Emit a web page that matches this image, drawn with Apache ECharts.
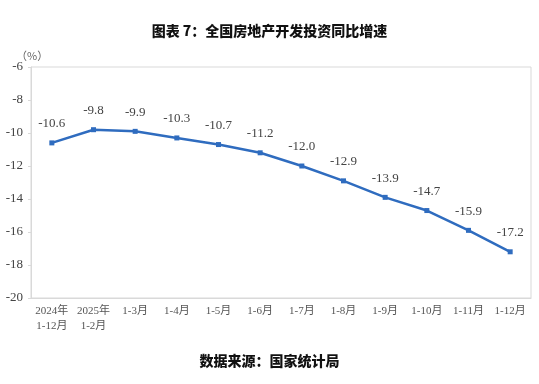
<!DOCTYPE html>
<html><head><meta charset="utf-8">
<script src="https://cdn.jsdelivr.net/npm/echarts@6/dist/echarts.min.js"></script>
<style>html,body{margin:0;padding:0;background:#fff}#c{width:539px;height:384px}</style>
</head><body><div id="c"></div>
<script>
const categories = ['2024年\n1-12月','2025年\n1-2月','1-3月','1-4月','1-5月','1-6月','1-7月','1-8月','1-9月','1-10月','1-11月','1-12月'];
const values = [-10.6,-9.8,-9.9,-10.3,-10.7,-11.2,-12.0,-12.9,-13.9,-14.7,-15.9,-17.2];
const serif = '"Liberation Serif","Noto Sans CJK SC",serif';
const chart = echarts.init(document.getElementById('c'));
chart.setOption({
  animation:false,
  title:[{text:'图表 7：全国房地产开发投资同比增速',left:'center',top:19,textStyle:{fontFamily:'"Noto Sans CJK SC"',fontSize:14,fontWeight:900,color:'#111'}},
         {text:'数据来源：国家统计局',left:'center',top:349,textStyle:{fontFamily:'"Noto Sans CJK SC"',fontSize:14,fontWeight:900,color:'#111'}},
         {text:'（%）',left:11,top:45,textStyle:{fontFamily:'"Noto Sans CJK SC"',fontSize:11,fontWeight:'normal',color:'#666'}}],
  grid:{left:31,right:8,top:67,bottom:86,show:true,borderColor:'#d9d9d9',borderWidth:1},
  xAxis:{type:'category',data:categories,boundaryGap:true,
    axisLine:{lineStyle:{color:'#d9d9d9'}},
    axisTick:{inside:true,length:4,lineStyle:{color:'#d9d9d9'}},
    axisLabel:{fontFamily:serif,fontSize:11,color:'#555',lineHeight:15,margin:6,interval:0}},
  yAxis:{type:'value',min:-20,max:-6,interval:2,
    axisLine:{show:true,lineStyle:{color:'#d9d9d9'}},
    axisTick:{show:true,length:3,lineStyle:{color:'#d9d9d9'}},
    splitLine:{show:false},
    axisLabel:{fontFamily:serif,fontSize:13,color:'#444',margin:8}},
  series:[{type:'line',data:values,symbol:'rect',symbolSize:5,
    lineStyle:{color:'#2f6cbf',width:2.5},itemStyle:{color:'#2f6cbf'},
    label:{show:true,position:'top',distance:10,fontFamily:serif,fontSize:13,color:'#444',formatter:p=>p.value.toFixed(1)}}]
});
</script></body></html>
